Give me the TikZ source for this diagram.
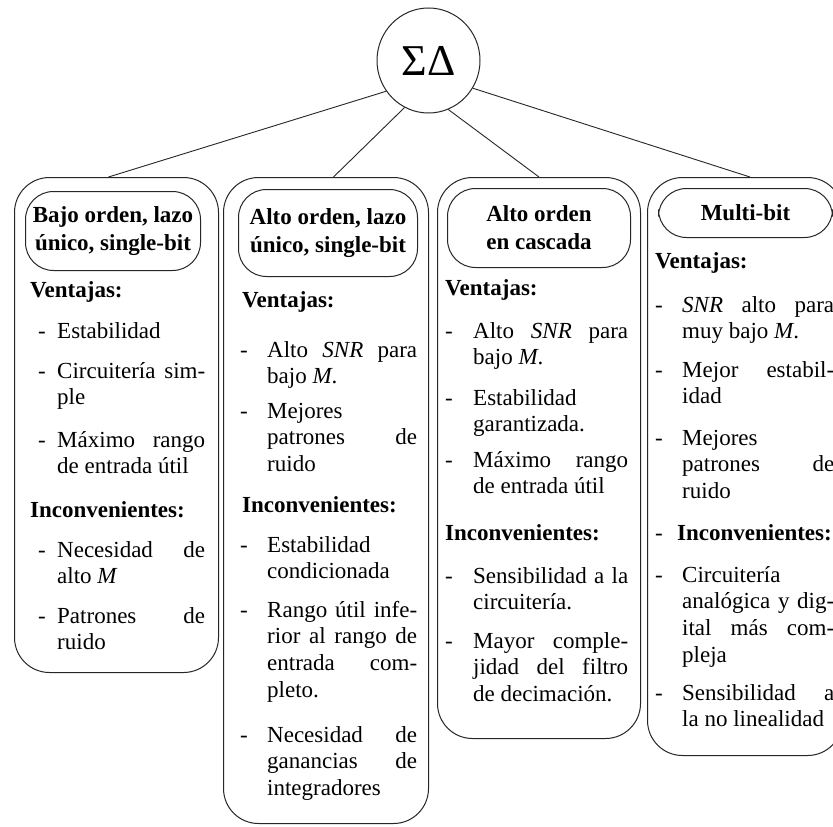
\documentclass[tikz,border=0pt]{standalone}
\usepackage{fontspec}
\setmainfont{Liberation Serif}
\usetikzlibrary{shapes.geometric}
\newlength\cw
\newcommand\jl[1]{\makebox[\linewidth][s]{#1}}
\newcommand\dx{0}
\newcommand\tx{0}
\newcommand\itm[3]{%
  \node[itm] (#1d) at (\dx,#2) {-};
  \node[itm] (#1) at (\tx,#2) {\parbox[t]{\cw}{#3}};}
\tikzset{
  outerbox/.style={draw=black!85, line width=1pt, rounded corners=35pt, anchor=north west, inner sep=0pt},
  ttlbox/.style={draw=black!85, line width=1pt, rounded corners=28pt, anchor=north west, inner sep=0pt,
    align=center, font=\fontsize{23}{28}\selectfont\bfseries},
  itm/.style={anchor=base west, inner sep=0pt, font=\fontsize{23}{26.8}\selectfont},
  hd/.style={anchor=base west, inner sep=0pt, font=\fontsize{23}{26.8}\selectfont\bfseries},
  conn/.style={draw=black!85, line width=0.9pt},
}
\begin{document}
\begin{tikzpicture}[x=1pt,y=-1pt]
\path[fill=white, use as bounding box] (0,0) rectangle (833,827);

% root
\node[draw=black!85, line width=1pt, ellipse, minimum width=103pt, minimum height=105pt, inner sep=0pt,
  font=\fontsize{44}{44}\selectfont] (sd) at (428.5,60.5) {ΣΔ};

% outer boxes
\node[outerbox, minimum width=204pt, minimum height=495pt] (b1) at (14,177) {};
\node[outerbox, minimum width=205pt, minimum height=646pt] (b2) at (223,177) {};
\node[outerbox, minimum width=203pt, minimum height=561pt] (b3) at (437,177) {};
\node[outerbox, minimum width=195pt, minimum height=578pt] (b4) at (647,177) {};

% connectors
\draw[conn] (sd.216) -- ([xshift=-8pt]b1.north);
\draw[conn] (sd.243) -- ([xshift=7.5pt]b2.north);
\draw[conn] (sd.292) -- (b3.north);
\draw[conn] (sd.328) -- ([xshift=5pt]b4.north);

% titles
\node[ttlbox, minimum width=175pt, minimum height=79pt] (t1) at (25,191) {Bajo orden, lazo\\único, single-bit};
\node[ttlbox, minimum width=179pt, minimum height=87pt] (t2) at (238,189) {Alto orden, lazo\\único, single-bit};
\node[ttlbox, minimum width=183pt, minimum height=79pt] (t3) at (447,188) {Alto orden\\en cascada};
\node[ttlbox, minimum width=174pt, minimum height=49pt] (t4) at (658,188) {Multi-bit};

% column 1
\renewcommand\dx{38}\renewcommand\tx{57}\setlength\cw{148pt}
\node[hd] (v1) at (30,297) {Ventajas:};
\itm{a1}{338}{Estabilidad}
\itm{a2}{378}{\jl{Circuitería sim-}\\ple}
\itm{a3}{447}{\jl{Máximo rango}\\de entrada útil}
\node[hd] (i1) at (30,517) {Inconvenientes:};
\itm{a4}{557}{\jl{Necesidad de}\\alto \textit{M}}
\itm{a5}{623}{\jl{Patrones de}\\ruido}

% column 2
\renewcommand\dx{240}\renewcommand\tx{267}\setlength\cw{150pt}
\node[hd] (v2) at (242,307) {Ventajas:};
\itm{c1}{357}{\jl{Alto \textit{SNR} para}\\bajo \textit{M}.}
\itm{c2}{418}{Mejores\\\jl{patrones de}\\ruido}
\node[hd] (i2) at (242,512) {Inconvenientes:};
\itm{c3}{552}{Estabilidad\\condicionada}
\itm{c4}{617}{\jl{Rango útil infe-}\\\jl{rior al rango de}\\\jl{entrada com-}\\pleto.}
\itm{c5}{742}{\jl{Necesidad de}\\\jl{ganancias de}\\integradores}

% column 3
\renewcommand\dx{445}\renewcommand\tx{473}\setlength\cw{155pt}
\node[hd] (v3) at (445,295) {Ventajas:};
\itm{e1}{338}{\jl{Alto \textit{SNR} para}\\bajo \textit{M}.}
\itm{e2}{405}{Estabilidad\\garantizada.}
\itm{e3}{467}{\jl{Máximo rango}\\de entrada útil}
\node[hd] (i3) at (445,540) {Inconvenientes:};
\itm{e4}{583}{\jl{Sensibilidad a la}\\circuitería.}
\itm{e5}{648}{\jl{Mayor comple-}\\\jl{jidad del filtro}\\de decimación.}

% column 4
\renewcommand\dx{655}\renewcommand\tx{682}\setlength\cw{152pt}
\node[hd] (v4) at (655,268) {Ventajas:};
\itm{g1}{312}{\jl{\textit{SNR} alto para}\\muy bajo \textit{M}.}
\itm{g2}{377}{\jl{Mejor estabil-}\\idad}
\itm{g3}{445}{Mejores\\\jl{patrones de}\\ruido}
\node[itm] (i4d) at (655,540) {-};
\node[hd] (i4) at (677,540) {Inconvenientes:};
\itm{g4}{582}{Circuitería\\\jl{analógica y dig-}\\\jl{ital más com-}\\pleja}
\itm{g5}{700}{\jl{Sensibilidad a}\\la no linealidad}
\end{tikzpicture}
\end{document}
